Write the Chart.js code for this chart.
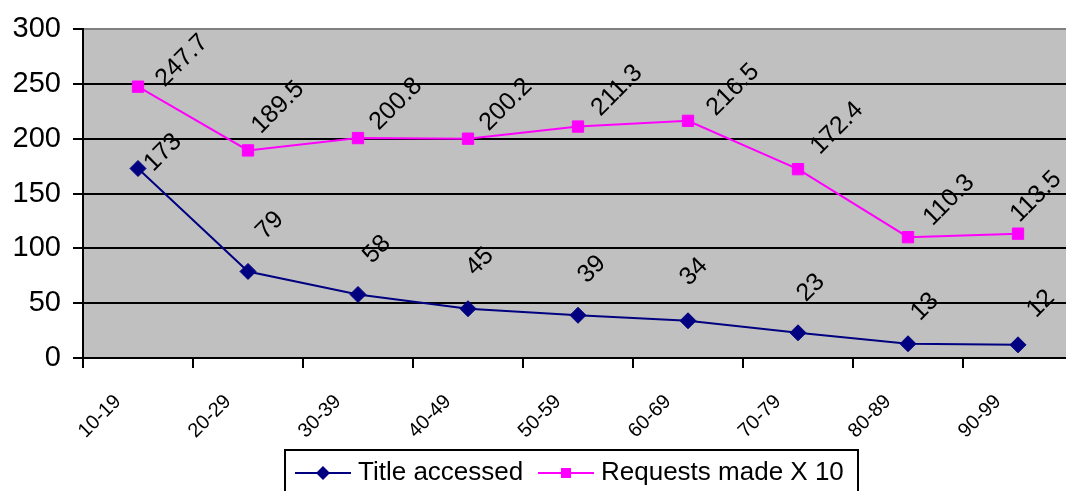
<!DOCTYPE html>
<html>
<head>
<meta charset="utf-8">
<script src="https://cdn.jsdelivr.net/npm/chart.js@4.4.1/dist/chart.umd.min.js"></script>
<style>
  html, body { margin: 0; padding: 0; background: #fff; overflow: hidden; }
  #wrap { width: 1066px; height: 491px; overflow: hidden; }
</style>
</head>
<body>
<div id="wrap"><canvas id="myChart" width="1082" height="491"></canvas></div>
<script>
const ageGroups = ["10-19", "20-29", "30-39", "40-49", "50-59", "60-69", "70-79", "80-89", "90-99"];
const titleAccessed = [173, 79, 58, 45, 39, 34, 23, 13, 12];
const requestsX10 = [247.7, 189.5, 200.8, 200.2, 211.3, 216.5, 172.4, 110.3, 113.5];
const yTicks = [0, 50, 100, 150, 200, 250, 300];

// ラベルの位置調整（点からのずれ）
const labelShift = [
  [[25, -16], [22, -46], [19, -45], [12, -47], [14, -46], [6, -49], [13, -45], [17, -37], [23, -41]],
  [[44, -26], [30, -43], [38, -34], [38, -34], [39, -36], [45, -31], [39, -41], [41, -37], [18, -37]],
];

const FONT = "'Liberation Sans', Arial, sans-serif";
const BLUE = "#000080";
const PINK = "#FF00FF";

// 背景（グレー）
const plotBg = {
  id: "plotBg",
  beforeDraw(chart) {
    const { ctx, chartArea: a } = chart;
    ctx.save();
    ctx.fillStyle = "#C0C0C0";
    ctx.fillRect(a.left, a.top, a.right - a.left, a.bottom - a.top);
    ctx.restore();
  },
};

// 値ラベル（斜め45度）
const valueLabels = {
  id: "valueLabels",
  afterDatasetsDraw(chart) {
    const ctx = chart.ctx;
    ctx.save();
    ctx.font = "25px " + FONT;
    ctx.fillStyle = "#000";
    ctx.textAlign = "center";
    ctx.textBaseline = "middle";
    chart.data.datasets.forEach((ds, i) => {
      const meta = chart.getDatasetMeta(i);
      meta.data.forEach((pt, j) => {
        const [dx, dy] = labelShift[i][j];
        ctx.save();
        ctx.translate(pt.x + dx, pt.y + dy);
        ctx.rotate(-Math.PI / 4);
        ctx.fillText(String(ds.data[j]), 0, 0);
        ctx.restore();
      });
    });
    ctx.restore();
  },
};

// 凡例（枠付き）
const boxLegend = {
  id: "boxLegend",
  afterDraw(chart) {
    const ctx = chart.ctx;
    ctx.save();
    ctx.lineWidth = 2;
    ctx.strokeStyle = "#000";
    ctx.strokeRect(285, 450, 573, 50);

    const y = 473;
    const items = [
      { x: 295, text: chart.data.datasets[0].label, color: BLUE, shape: "diamond" },
      { x: 538, text: chart.data.datasets[1].label, color: PINK, shape: "square" },
    ];
    items.forEach((it) => {
      ctx.strokeStyle = it.color;
      ctx.lineWidth = 2;
      ctx.beginPath();
      ctx.moveTo(it.x, y);
      ctx.lineTo(it.x + 56, y);
      ctx.stroke();
      const cx = it.x + 28;
      ctx.fillStyle = it.color;
      ctx.beginPath();
      if (it.shape === "diamond") {
        ctx.moveTo(cx, y - 7);
        ctx.lineTo(cx + 7, y);
        ctx.lineTo(cx, y + 7);
        ctx.lineTo(cx - 7, y);
        ctx.closePath();
      } else {
        ctx.rect(cx - 5, y - 5, 10, 10);
      }
      ctx.fill();
      ctx.fillStyle = "#000";
      ctx.font = "26px " + FONT;
      ctx.textAlign = "left";
      ctx.textBaseline = "middle";
      ctx.fillText(it.text, it.x + 63, y);
    });
    ctx.restore();
  },
};

const ctx = document.getElementById("myChart").getContext("2d");
const myChart = new Chart(ctx, {
  type: "line",
  data: {
    labels: ageGroups,
    datasets: [
      {
        label: "Title accessed",
        data: titleAccessed,
        borderColor: BLUE,
        backgroundColor: BLUE,
        borderWidth: 2,
        pointStyle: "rectRot",
        pointRadius: 8,
        pointBorderWidth: 1,
        tension: 0,
      },
      {
        label: "Requests made X 10",
        data: requestsX10,
        borderColor: PINK,
        backgroundColor: PINK,
        borderWidth: 2,
        pointStyle: "rect",
        pointRadius: 8,
        pointBorderWidth: 1,
        tension: 0,
      },
    ],
  },
  options: {
    responsive: false,
    animation: false,
    layout: { padding: { top: 25, left: 0, right: 0, bottom: 0 } },
    plugins: {
      legend: { display: false },
      tooltip: { enabled: false },
    },
    scales: {
      x: {
        offset: true,
        grid: {
          offset: true,
          drawOnChartArea: false,
          drawTicks: true,
          tickLength: 10,
          color: "#000",
          lineWidth: 2,
        },
        border: { display: true, color: "#000", width: 2 },
        ticks: {
          color: "#000",
          font: { family: FONT, size: 20 },
          minRotation: 45,
          maxRotation: 45,
          padding: 22,
          labelOffset: -20,
        },
        afterFit(scale) {
          scale.height = 133;
        },
      },
      y: {
        min: 0,
        max: 300,
        afterBuildTicks(scale) {
          scale.ticks = yTicks.map((v) => ({ value: v }));
        },
        grid: {
          color: (c) => (c.tick && c.tick.value === 300 ? "#808080" : "#000"),
          tickColor: "#000",
          lineWidth: 2,
          tickLength: 10,
        },
        border: { display: true, color: "#000", width: 2 },
        ticks: {
          color: "#000",
          font: { family: FONT, size: 29 },
          padding: 12,
        },
        afterFit(scale) {
          scale.width = 83;
        },
      },
    },
  },
  plugins: [plotBg, valueLabels, boxLegend],
});
</script>
</body>
</html>
